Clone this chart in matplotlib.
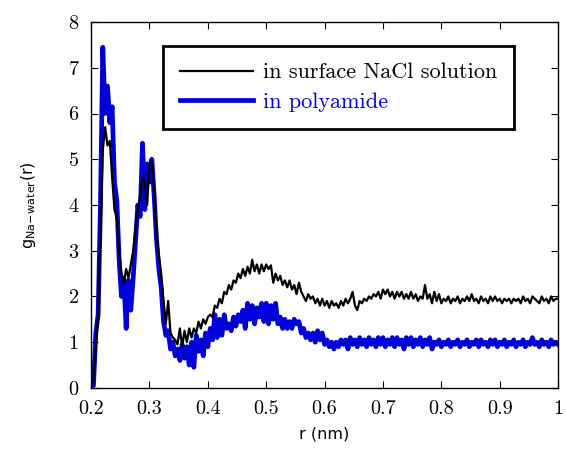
import numpy as np
import matplotlib.pyplot as plt

# r grid (nm), one sample every 0.004 nm
r = np.round(np.arange(0.2, 1.0001, 0.004), 3)

# g(r) of Na-water in surface NaCl solution
g_solution = [
    0.05, 0.15, 0.9, 1.6, 3.4, 5.2, 5.7, 5.3, 5.4, 4.6,
    3.9, 3.7, 3.0, 2.5, 2.3, 2.6, 2.4, 2.7, 3.0, 3.5,
    3.9, 4.2, 4.6, 4.5, 4.0, 4.9, 4.95, 4.3, 3.4, 2.9,
    2.5, 1.9, 1.4, 1.9, 1.2, 1.1, 1.05, 0.95, 1.3, 0.9,
    1.25, 1.0, 1.3, 1.1, 1.3, 1.2, 1.45, 1.3, 1.5, 1.4,
    1.55, 1.6, 1.55, 1.8, 1.75, 1.95, 1.85, 2.1, 2.05, 2.25,
    2.15, 2.35, 2.3, 2.5, 2.4, 2.6, 2.45, 2.65, 2.5, 2.8,
    2.55, 2.7, 2.5, 2.7, 2.55, 2.7, 2.6, 2.68, 2.3, 2.5,
    2.35, 2.45, 2.25, 2.35, 2.2, 2.35, 2.15, 2.25, 2.05, 2.3,
    2.1, 2.0, 1.9, 2.05, 1.95, 2.0, 1.85, 1.95, 1.8, 1.95,
    1.8, 1.9, 1.75, 1.9, 1.8, 1.85, 1.75, 1.9, 1.8, 1.95,
    1.85, 1.95, 2.1, 1.8, 1.7, 1.9, 1.85, 1.95, 1.9, 2.0,
    1.95, 2.05, 2.0, 2.1, 1.95, 2.15, 2.05, 2.15, 2.0, 2.1,
    1.95, 2.1, 2.0, 2.1, 1.95, 2.05, 1.95, 2.1, 1.95, 2.05,
    1.9, 2.0, 1.95, 2.25, 1.95, 2.05, 1.85, 2.1, 1.9, 2.05,
    1.85, 1.95, 1.9, 2.0, 1.85, 1.95, 1.9, 2.0, 1.85, 1.95,
    1.9, 2.0, 1.9, 2.05, 1.9, 1.95, 1.85, 2.0, 1.9, 1.95,
    1.85, 2.0, 1.9, 2.0, 1.9, 1.95, 1.85, 1.95, 1.9, 1.95,
    1.85, 1.95, 1.9, 1.95, 1.85, 2.0, 1.9, 1.95, 1.85, 2.0,
    1.95, 1.9, 1.85, 2.0, 1.9, 1.95, 1.85, 2.0, 1.9, 1.95,
    1.95,
]

# g(r) of Na-water in polyamide
g_polyamide = [
    0.1, 0.05, 1.2, 1.6, 4.0, 7.45, 6.0, 6.6, 5.8, 6.15,
    4.5, 4.1, 2.8, 2.0, 2.4, 1.3, 2.35, 1.7, 2.4, 3.2,
    4.0, 3.75, 5.35, 3.9, 4.9, 4.5, 5.0, 4.2, 3.25, 2.6,
    2.2, 1.45, 1.15, 1.25, 0.85, 1.0, 0.7, 0.85, 0.6, 0.95,
    0.65, 0.9, 0.5, 1.0, 0.45, 1.15, 0.8, 1.05, 0.7, 1.2,
    0.9, 1.3, 1.05, 1.6, 1.1, 1.5, 1.15, 1.6, 1.3, 1.4,
    1.25, 1.55, 1.35, 1.6, 1.45, 1.7, 1.3, 1.85, 1.5, 1.8,
    1.4, 1.75, 1.55, 1.85, 1.45, 1.85, 1.4, 1.8, 1.5, 1.85,
    1.4, 1.55, 1.3, 1.5, 1.3, 1.45, 1.3, 1.5, 1.4, 1.45,
    1.2, 1.3, 1.1, 1.2, 1.05, 1.2, 1.0, 1.25, 1.05, 1.2,
    0.95, 1.05, 0.9, 1.0, 0.85, 1.0, 0.9, 1.05, 0.95, 1.05,
    0.85, 1.1, 0.95, 1.05, 0.9, 1.1, 0.95, 1.05, 0.9, 1.1,
    0.95, 1.05, 0.9, 1.1, 0.95, 1.1, 0.9, 1.05, 0.95, 1.1,
    0.9, 1.1, 0.95, 1.05, 0.85, 1.1, 0.95, 1.1, 0.9, 1.05,
    0.95, 1.1, 0.9, 1.05, 0.95, 1.1, 0.85, 1.0, 0.95, 1.05,
    0.9, 1.0, 0.95, 1.05, 0.9, 1.0, 0.95, 1.05, 0.9, 1.0,
    0.95, 1.05, 0.9, 1.0, 0.95, 1.05, 0.9, 1.05, 0.95, 1.0,
    0.9, 1.05, 0.95, 1.05, 0.9, 1.0, 0.95, 1.05, 0.9, 1.0,
    0.95, 1.05, 0.9, 1.0, 0.95, 1.05, 0.9, 1.0, 0.95, 1.1,
    0.95, 1.0, 0.9, 1.05, 0.95, 1.0, 0.9, 1.05, 0.95, 1.0,
    0.95,
]

xticks = [0.2, 0.3, 0.4, 0.5, 0.6, 0.7, 0.8, 0.9, 1.0]
xticklabels = ['0.2', '0.3', '0.4', '0.5', '0.6', '0.7', '0.8', '0.9', '1']
yticks = [0, 1, 2, 3, 4, 5, 6, 7, 8]

plt.rcParams['mathtext.fontset'] = 'dejavusans'

fig = plt.figure(figsize=(5.66, 4.5), dpi=100)
ax = fig.add_axes([0.161, 0.138, 0.825, 0.813])

l1, = ax.plot(r, g_solution, color='black', lw=1.6, zorder=3,
              label='in surface NaCl solution')
l2, = ax.plot(r, g_polyamide, color='#0000d8', lw=3.4, zorder=2,
              label='in polyamide')

ax.set_xlim(0.2, 1.0)
ax.set_ylim(0, 8)
ax.set_xticks(xticks)
ax.set_xticklabels(xticklabels)
ax.set_yticks(yticks)
ax.tick_params(direction='in', top=True, right=True, length=5, width=0.8,
               labelsize=14.5, pad=9)
for lab in ax.get_xticklabels() + ax.get_yticklabels():
    lab.set_fontfamily('cmr10')
for s in ax.spines.values():
    s.set_linewidth(1.0)

ax.set_xlabel('r (nm)', fontsize=11.5, labelpad=6)
ax.set_ylabel(r'g$_{\mathrm{Na\!-\!water}}$(r)', fontsize=11.5, labelpad=22)

leg = ax.legend(handles=[l1, l2], loc='upper left',
                bbox_to_anchor=(0.154, 0.934), prop={'family': 'cmr10', 'size': 16},
                frameon=True, fancybox=False, framealpha=1, edgecolor='black',
                handlelength=3.3, handletextpad=0.45, borderpad=0.75,
                labelspacing=0.45, borderaxespad=0)
leg.get_frame().set_linewidth(2.0)
leg.get_texts()[1].set_color('#0000d8')

fig.savefig('out.png', dpi=100)
